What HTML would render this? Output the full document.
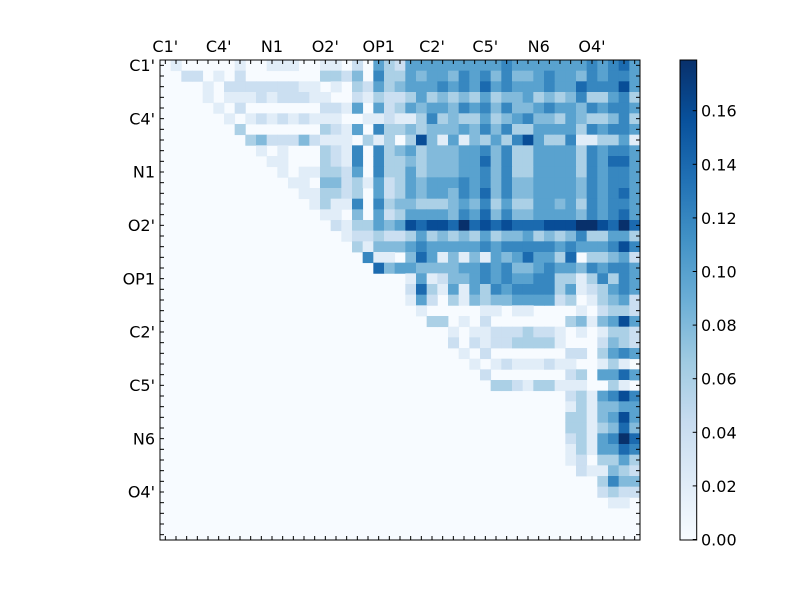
<!DOCTYPE html>
<html><head><meta charset="utf-8"><style>
html,body{margin:0;padding:0;background:#fff;width:800px;height:600px;overflow:hidden}
text{font-family:"DejaVu Sans","Liberation Sans",sans-serif;font-size:16px;fill:#000}
</style></head><body>
<svg id="s" width="800" height="600" xmlns="http://www.w3.org/2000/svg">
<defs><linearGradient id="cb" x1="0" y1="1" x2="0" y2="0">
<stop offset="0" stop-color="#f7fbff"/><stop offset="0.125" stop-color="#deebf7"/><stop offset="0.25" stop-color="#c6dbef"/><stop offset="0.375" stop-color="#9ecae1"/><stop offset="0.5" stop-color="#6baed6"/><stop offset="0.625" stop-color="#4292c6"/><stop offset="0.75" stop-color="#2171b5"/><stop offset="0.875" stop-color="#08519c"/><stop offset="1" stop-color="#08306b"/>
</linearGradient></defs>
<rect x="160" y="60" width="480" height="480" fill="#f7fbff"/>
<g id="cells"></g>
<rect x="160" y="60" width="480" height="480" fill="none" stroke="#000" stroke-width="1"/>
<g id="ticks" stroke="#000" stroke-width="1"></g>
<text x="165.3" y="52" text-anchor="middle">C1'</text>
<text x="218.7" y="52" text-anchor="middle">C4'</text>
<text x="272" y="52" text-anchor="middle">N1</text>
<text x="325.3" y="52" text-anchor="middle">O2'</text>
<text x="378.7" y="52" text-anchor="middle">OP1</text>
<text x="432" y="52" text-anchor="middle">C2'</text>
<text x="485.3" y="52" text-anchor="middle">C5'</text>
<text x="538.7" y="52" text-anchor="middle">N6</text>
<text x="592" y="52" text-anchor="middle">O4'</text>
<text x="155" y="71" text-anchor="end">C1'</text>
<text x="155" y="124.3" text-anchor="end">C4'</text>
<text x="155" y="177.7" text-anchor="end">N1</text>
<text x="155" y="231" text-anchor="end">O2'</text>
<text x="155" y="284.3" text-anchor="end">OP1</text>
<text x="155" y="337.7" text-anchor="end">C2'</text>
<text x="155" y="391" text-anchor="end">C5'</text>
<text x="155" y="444.3" text-anchor="end">N6</text>
<text x="155" y="497.7" text-anchor="end">O4'</text>
<rect x="680" y="60" width="16.7" height="480" fill="url(#cb)" stroke="#000" stroke-width="1"/>
<g id="cbt" stroke="#000" stroke-width="1"></g>
<g id="cbl"></g>
</svg>
<script>
var B1=["010000010011100","002201020000000","000010222222211","000010111212221","000001020000000","000000101212121","000000030000000","000000003422242","000000000101000","000000000011000","000000000001011","000000000000110","000000000000011","000000000000001","000000000000000"];
var B2=["110205325555555","332406335455465","010325345556565","100213223534343","221505235455465","110011211363433","321506334344454","111031303841514","321606345344455","321606334344455","332506335344455","442315235455565","332305235455465","311606344333454","110405235555465"];
var B3=["556555555565675","646445655465665","756555655766685","534453434633563","646445655465665","534564435433463","646335555365665","353685336113351","646335555365665","746335555365775","646335555365665","646445555465665","746445555465675","635335545365665","746445555465675"];
var B4=["021335458788797","001223223534343","000314445655555","000061104751414","000007455444455","000000001512445","000000002731515","000000001520314","000000000100000","000000000033010","000000000000101","000000000000202","000000000000010","000000000000001","000000000000000"];
var B5=["878777888998797","534453434633553","656666656555686","154575537033452","656445655465665","656556633136365","365666635123565","344555523013452","110110000102332","200000003414585","122232210101332","122333310002432","200000002203565","012111211001310","200000002305575"];
var B6=["033213311100310","000000002315686","000000001314455","000000003314585","000000003313474","000000002315697","000000001315576","000000001203353","000000000211432","000000000003644","000000000002322","000000000000110","000000000000000","000000000000000","000000000000000"];
var Z="000000000000000";
var rows=[];
for(var r=0;r<15;r++)rows.push(B1[r]+B2[r]+B3[r]);
for(var r=0;r<15;r++)rows.push(Z+B4[r]+B5[r]);
for(var r=0;r<15;r++)rows.push(Z+Z+B6[r]);
var cm=[[247,251,255],[222,235,247],[198,219,239],[158,202,225],[107,174,214],[66,146,198],[33,113,181],[8,81,156],[8,48,107]];
function col(f){f=Math.max(0,Math.min(1,f))*8;var i=Math.min(7,Math.floor(f)),t=f-i,a=cm[i],b=cm[i+1];
return "rgb("+Math.round(a[0]+(b[0]-a[0])*t)+","+Math.round(a[1]+(b[1]-a[1])*t)+","+Math.round(a[2]+(b[2]-a[2])*t)+")";}
var NS="http://www.w3.org/2000/svg",c=480/45,g=document.getElementById("cells");
for(var r=0;r<45;r++)for(var k=0;k<45;k++){var L=+rows[r][k];if(!L)continue;
var e=document.createElementNS(NS,"rect");e.setAttribute("x",160+k*c);e.setAttribute("y",60+r*c);
e.setAttribute("width",c+0.4);e.setAttribute("height",c+0.4);e.setAttribute("fill",col(L/9));g.appendChild(e);}
var tg=document.getElementById("ticks");
function ln(p,x1,y1,x2,y2){var e=document.createElementNS(NS,"line");e.setAttribute("x1",x1);e.setAttribute("y1",y1);e.setAttribute("x2",x2);e.setAttribute("y2",y2);p.appendChild(e);}
for(var i=0;i<45;i++){var p=160+(i+0.5)*c;ln(tg,p,60,p,64);ln(tg,p,540,p,536);}
for(var i=0;i<45;i++){var p=60+(i+0.5)*c;ln(tg,160,p,164,p);ln(tg,640,p,636,p);}
var cbt=document.getElementById("cbt"),cbl=document.getElementById("cbl");
for(var v=0;v<=8;v++){var y=539.5-v*53.6;ln(cbt,696.7,y,692.7,y);
var t=document.createElementNS(NS,"text");t.setAttribute("x",701);t.setAttribute("y",y+6);t.textContent=(v*0.02).toFixed(2);cbl.appendChild(t);}
</script>
</body></html>
